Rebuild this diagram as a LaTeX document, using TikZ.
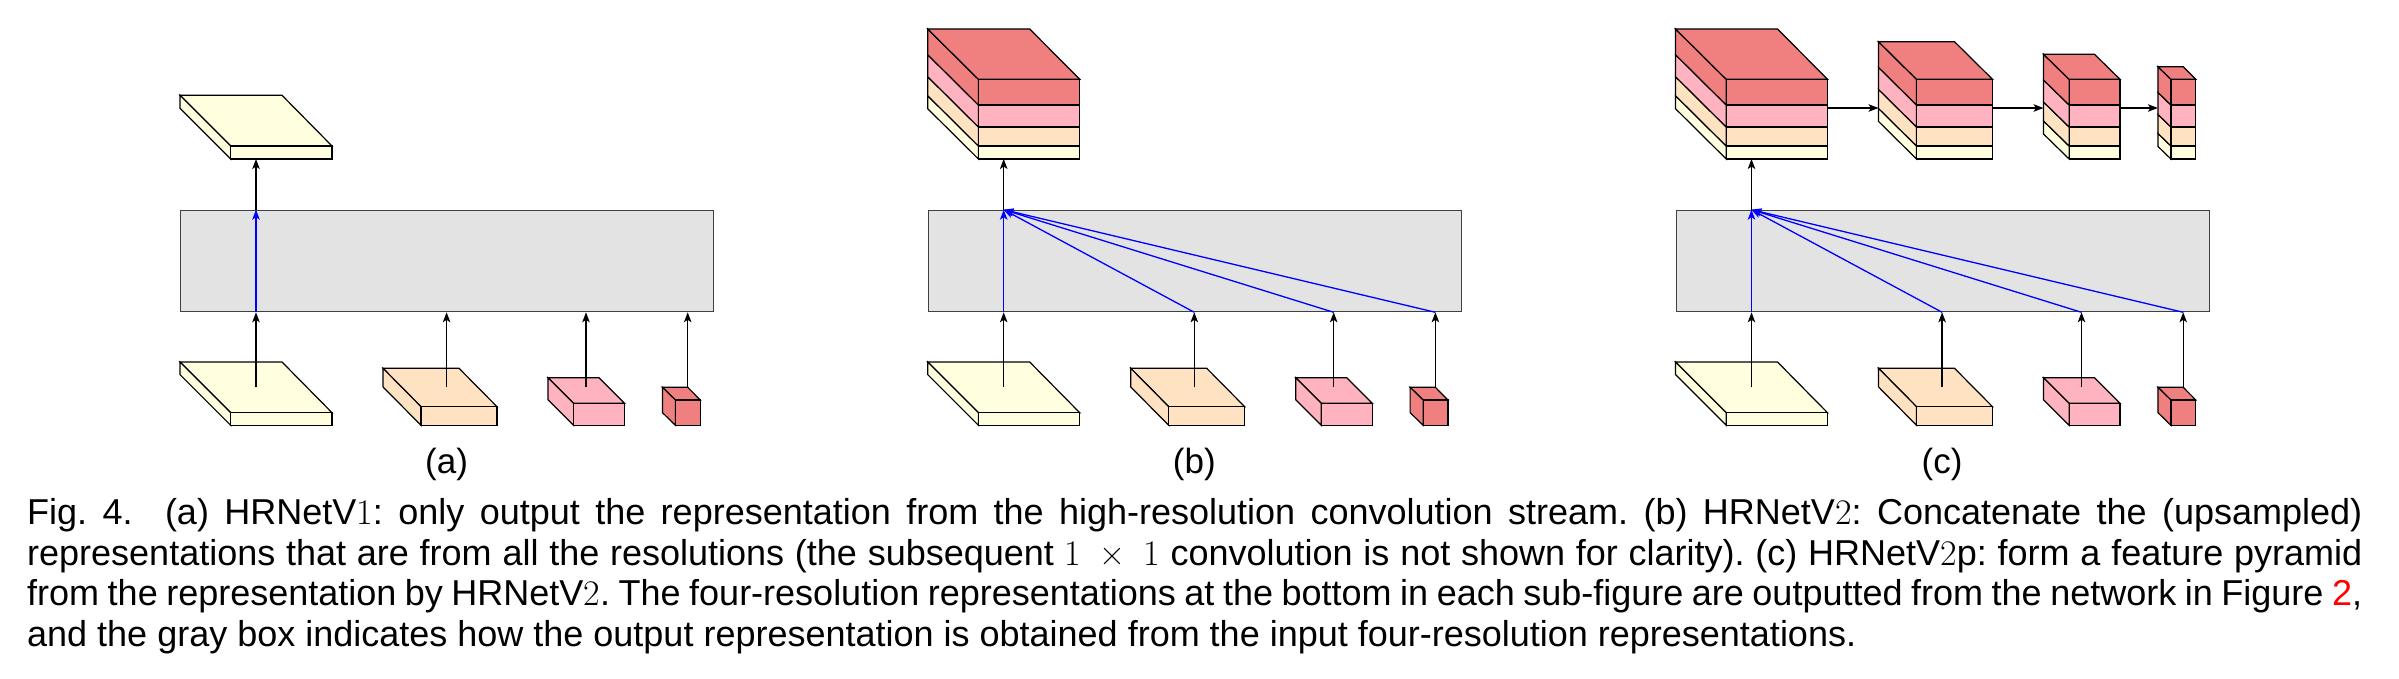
\documentclass[tikz,border=0pt]{standalone}
\usepackage{fontspec}
\setsansfont{Liberation Sans}
\usetikzlibrary{arrows.meta}
\definecolor{cyel}{HTML}{FFFFE0}
\definecolor{cora}{HTML}{FFE2C2}
\definecolor{cpin}{HTML}{FFB3C0}
\definecolor{cred}{HTML}{F08080}
\definecolor{cgry}{HTML}{E3E3E3}
\tikzset{
  solid3d/.style={draw=black,line width=1.2pt,line join=miter},
  arr/.style={draw=black,line width=1.3pt,-{Stealth[length=10pt,width=7.5pt,inset=2.5pt]}},
  barr/.style={draw=blue,line width=1.3pt,-{Stealth[length=10pt,width=7.5pt,inset=2.5pt]}},
  graybox/.style={draw=black!75,line width=1.3pt,fill=cgry,inner sep=0pt,anchor=north west},
  sublabel/.style={font=\fontsize{35}{40}\selectfont\sffamily,inner sep=0pt,anchor=base},
  capline/.style={font=\fontsize{36}{41}\selectfont\sffamily\frenchspacing,inner sep=0pt,anchor=base west}
}
% #1 left, #2 front-left, #3 back-right, #4 right, #5 back top, #6 front top, #7 bottom, #8 colour, #9 name
\newcommand{\cuboid}[9]{%
  \filldraw[solid3d,fill=#8] (#1,#5) -- (#3,#5) -- (#4,#6) -- (#2,#6) -- cycle;
  \filldraw[solid3d,fill=#8] (#1,#5) -- (#2,#6) -- (#2,#7) -- (#1,{#7-(#6-#5)}) -- cycle;
  \filldraw[solid3d,fill=#8] (#2,#6) rectangle (#4,#7);
  \coordinate (#9) at (#2,#7);
}
% stacked output block: y levels 79.3,105,127,146,159
% #1 left, #2 front-left, #3 back-right, #4 right, #5 back top, #6 name
\newcommand{\stackblock}[6]{%
  \pgfmathsetmacro{\dpth}{79.3-#5}%
  \filldraw[solid3d,fill=cyel] (#1,{146-\dpth}) -- (#2,146) -- (#2,159) -- (#1,{159-\dpth}) -- cycle;
  \filldraw[solid3d,fill=cyel] (#2,146) rectangle (#4,159);
  \filldraw[solid3d,fill=cora] (#1,{127-\dpth}) -- (#2,127) -- (#2,146) -- (#1,{146-\dpth}) -- cycle;
  \filldraw[solid3d,fill=cora] (#2,127) rectangle (#4,146);
  \filldraw[solid3d,fill=cpin] (#1,{105-\dpth}) -- (#2,105) -- (#2,127) -- (#1,{127-\dpth}) -- cycle;
  \filldraw[solid3d,fill=cpin] (#2,105) rectangle (#4,127);
  \filldraw[solid3d,fill=cred] (#1,#5) -- (#2,79.3) -- (#2,105) -- (#1,{105-\dpth}) -- cycle;
  \filldraw[solid3d,fill=cred] (#2,79.3) rectangle (#4,105);
  \filldraw[solid3d,fill=cred] (#1,#5) -- (#3,#5) -- (#4,79.3) -- (#2,79.3) -- cycle;
  \coordinate (#6r) at (#4,108);
  \coordinate (#6l) at (#1,108);
  \coordinate (#6b) at (#2,159);
}
\begin{document}
\begin{tikzpicture}[x=1pt,y=-1pt]
\useasboundingbox (0,0) rectangle (2399,679);

% ---------- panel (a)
\node[graybox,minimum width=533pt,minimum height=101.3pt] (boxa) at (180,209.7) {};
\cuboid{180}{230.7}{282}{332}{95.3}{146}{159}{cyel}{outa}
\cuboid{180}{230.7}{282}{332}{362}{412.7}{425.3}{cyel}{a1}
\cuboid{383}{421}{459}{497}{368.3}{406.7}{425.3}{cora}{a2}
\cuboid{548}{573.6}{599}{624.5}{377.7}{403.3}{425.3}{cpin}{a3}
\cuboid{662.4}{675.4}{687.7}{700.3}{387.3}{400}{425.3}{cred}{a4}
\coordinate (a1s) at (256,387.3);
\coordinate (a2s) at (446.6,387.3);
\coordinate (a3s) at (586,387.3);
\coordinate (a4s) at (687.7,387.3);
\foreach \s in {a1s,a2s,a3s,a4s} \draw[arr] (\s) -- (\s |- boxa.south);
\draw[barr] (a1s |- boxa.south) -- (a1s |- boxa.north);
\draw[arr] (a1s |- boxa.north) -- (a1s |- outa);
\node[sublabel] (la) at (446.6,473) {(a)};

% ---------- panel (b)
\node[graybox,minimum width=533pt,minimum height=101.3pt] (boxb) at (927.7,209.7) {};
\stackblock{927.7}{978.4}{1029.7}{1079.7}{29}{outb}
\cuboid{927.7}{978.4}{1029.7}{1079.7}{362}{412.7}{425.3}{cyel}{b1}
\cuboid{1130.7}{1168.7}{1206.7}{1244.7}{368.3}{406.7}{425.3}{cora}{b2}
\cuboid{1295.7}{1321.3}{1346.7}{1372.2}{377.7}{403.3}{425.3}{cpin}{b3}
\cuboid{1410.1}{1423.1}{1435.4}{1448}{387.3}{400}{425.3}{cred}{b4}
\coordinate (b1s) at (1003.7,387.3);
\coordinate (b2s) at (1194.3,387.3);
\coordinate (b3s) at (1333.7,387.3);
\coordinate (b4s) at (1435.4,387.3);
\foreach \s in {b1s,b2s,b3s,b4s} \draw[arr] (\s) -- (\s |- boxb.south);
\coordinate (bhub) at (b1s |- boxb.north);
\foreach \s in {b1s,b2s,b3s,b4s} \draw[barr] (\s |- boxb.south) -- (bhub);
\draw[arr] (bhub) -- (b1s |- outbb);
\node[sublabel] (lb) at (1194.3,473) {(b)};

% ---------- panel (c)
\node[graybox,minimum width=533pt,minimum height=101.3pt] (boxc) at (1675.5,209.7) {};
\stackblock{1675.5}{1726.2}{1777.5}{1827.5}{29}{outc}
\stackblock{1878.5}{1916.5}{1954.5}{1992.5}{41.7}{outd}
\stackblock{2043.5}{2069.1}{2094.5}{2120}{54.3}{oute}
\stackblock{2157.9}{2170.9}{2183.2}{2195.8}{66.7}{outf}
\draw[arr] (outcr) -- (outdl);
\draw[arr] (outdr) -- (outel);
\draw[arr] (outer) -- (outfl);
\cuboid{1675.5}{1726.2}{1777.5}{1827.5}{362}{412.7}{425.3}{cyel}{c1}
\cuboid{1878.5}{1916.5}{1954.5}{1992.5}{368.3}{406.7}{425.3}{cora}{c2}
\cuboid{2043.5}{2069.1}{2094.5}{2120}{377.7}{403.3}{425.3}{cpin}{c3}
\cuboid{2157.9}{2170.9}{2183.2}{2195.8}{387.3}{400}{425.3}{cred}{c4}
\coordinate (c1s) at (1751.5,387.3);
\coordinate (c2s) at (1942.1,387.3);
\coordinate (c3s) at (2081.5,387.3);
\coordinate (c4s) at (2183.2,387.3);
\foreach \s in {c1s,c2s,c3s,c4s} \draw[arr] (\s) -- (\s |- boxc.south);
\coordinate (chub) at (c1s |- boxc.north);
\foreach \s in {c1s,c2s,c3s,c4s} \draw[barr] (\s |- boxc.south) -- (chub);
\draw[arr] (chub) -- (c1s |- outcb);
\node[sublabel] (lc) at (1942.1,473) {(c)};

% ---------- caption
\node[capline] (cap1) at (27,524) {\makebox[2335pt][s]{Fig. 4.\hspace{0.9em}(a) HRNetV{\rmfamily 1}: only output the representation from the high-resolution convolution stream. (b) HRNetV{\rmfamily 2}: Concatenate the (upsampled)}};
\node[capline] (cap2) at (27,565) {\makebox[2335pt][s]{representations that are from all the resolutions (the subsequent {\rmfamily 1\hspace{0.5em}×\hspace{0.5em}1} convolution is not shown for clarity). (c) HRNetV{\rmfamily 2}p: form a feature pyramid}};
\node[capline] (cap3) at (27,605.7) {\makebox[2335pt][s]{from the representation by HRNetV{\rmfamily 2}. The four-resolution representations at the bottom in each sub-figure are outputted from the network in Figure \textcolor{red}{2},}};
\node[capline] (cap4) at (27,646.7) {and the gray box indicates how the output representation is obtained from the input four-resolution representations.};
\end{tikzpicture}
\end{document}
